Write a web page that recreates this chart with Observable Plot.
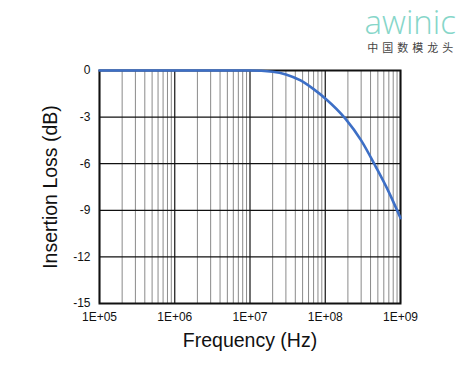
<!DOCTYPE html>
<html>
<head>
<meta charset="utf-8">
<script src="https://cdn.jsdelivr.net/npm/d3@7"></script>
<script src="https://cdn.jsdelivr.net/npm/@observablehq/plot@0.6"></script>
<style>
  html, body { margin: 0; padding: 0; background: #fff; }
  #wrap { position: relative; width: 472px; height: 379px; overflow: hidden; }
  #logo { position: absolute; right: 16px; top: 5px; text-align: center; }
  #logo .brand { font-family: "Open Sans", sans-serif; font-weight: 300; font-size: 33px; color: #86d6c9; line-height: 33px; }
  #logo .cn { font-family: "Noto Sans CJK SC", sans-serif; font-size: 11px; color: #444; letter-spacing: 4px; line-height: 14px; margin-top: 2px; margin-right: -4px; }
</style>
</head>
<body>
<div id="wrap">
  <div id="chart"></div>
  <div id="logo"><div class="brand">awinic</div><div class="cn">中国数模龙头</div></div>
</div>
<script>
const freq = [1e5, 1e6, 1e7, 2e7, 3e7, 4.7e7, 7e7, 1e8, 1.85e8, 3e8, 4.7e8, 6.8e8, 1e9];
const loss = [0, 0, 0, -0.08, -0.25, -0.64, -1.2, -1.8, -3.1, -4.5, -6.2, -7.7, -9.5];
const xMajor = [1e5, 1e6, 1e7, 1e8, 1e9];
const xTickLabels = ["1E+05", "1E+06", "1E+07", "1E+08", "1E+09"];
const yTicks = [0, -3, -6, -9, -12, -15];
const yTickLabels = ["0", "-3", "-6", "-9", "-12", "-15"];
const xTitle = "Frequency (Hz)";
const yTitle = "Insertion Loss (dB)";

const data = freq.map((f, i) => ({f, v: loss[i]}));
const xMinor = [];
for (let d = 0; d < xMajor.length - 1; d++) {
  for (let k = 2; k <= 9; k++) xMinor.push(xMajor[d] * k);
}

const chart = Plot.plot({
  width: 472,
  height: 379,
  marginLeft: 99,
  marginRight: 72,
  marginTop: 70,
  marginBottom: 76,
  style: {fontFamily: "Liberation Sans, Arial, sans-serif", fontSize: "12px", color: "#111", background: "#fff"},
  x: {type: "log", domain: [1e5, 1e9], axis: null},
  y: {domain: [-15, 0], axis: null},
  marks: [
    Plot.ruleX(xMinor, {stroke: "#8a8a8a", strokeWidth: 1}),
    Plot.ruleX(xMajor, {stroke: "#111", strokeWidth: 1.2}),
    Plot.ruleY(yTicks, {stroke: "#111", strokeWidth: 1.2}),
    Plot.axisX(xMajor, {tickFormat: d => xTickLabels[xMajor.indexOf(d)], tickSize: 0, tickPadding: 9, fontSize: 12, label: null}),
    Plot.axisY(yTicks, {tickFormat: d => yTickLabels[yTicks.indexOf(d)], tickSize: 0, tickPadding: 9, fontSize: 12, label: null}),
    Plot.frame({stroke: "#111", strokeWidth: 2}),
    Plot.line(data, {x: "f", y: "v", stroke: "#3d6fc6", strokeWidth: 2.6, curve: "monotone-x"}),
    Plot.text([xTitle], {frameAnchor: "bottom", dy: 43, fontSize: 19.5, fill: "#111", text: d => d}),
    Plot.text([yTitle], {frameAnchor: "left", textAnchor: "middle", dx: -49, rotate: -90, fontSize: 19.5, fill: "#111", text: d => d})
  ]
});
document.getElementById("chart").appendChild(chart);
</script>
</body>
</html>
